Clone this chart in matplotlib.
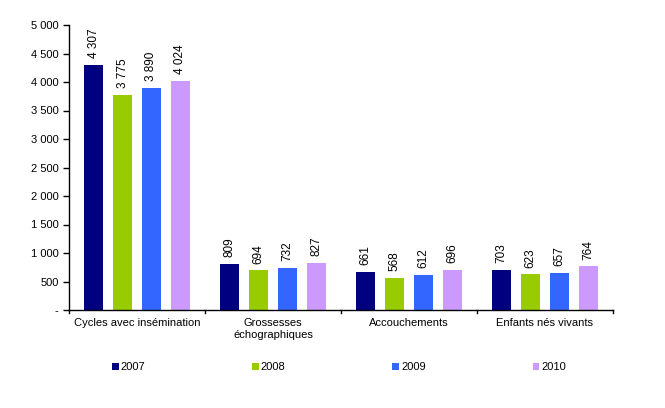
import matplotlib
matplotlib.use("Agg")
import matplotlib.pyplot as plt
import numpy as np

plt.rcParams['font.family'] = ['Liberation Sans', 'DejaVu Sans']

categories = ["Cycles avec insémination", "Grossesses\néchographiques", "Accouchements", "Enfants nés vivants"]
years = ["2007", "2008", "2009", "2010"]
v2007 = [4307, 809, 661, 703]
v2008 = [3775, 694, 568, 623]
v2009 = [3890, 732, 612, 657]
v2010 = [4024, 827, 696, 764]
series = [v2007, v2008, v2009, v2010]
colors = ["#000080", "#99CC00", "#3366FF", "#CC99FF"]
yticks = [0, 500, 1000, 1500, 2000, 2500, 3000, 3500, 4000, 4500, 5000]

def fmt(v):
    return "-" if v == 0 else f"{v:,}".replace(",", " ")

fig = plt.figure(figsize=(6.65, 4.08), dpi=100)
ax = fig.add_axes([69/665, 1 - 310/408, (613-69)/665, (310-25)/408])

x = np.arange(len(categories))
bw = 0.14
step = 0.213
for i, (vals, c, yr) in enumerate(zip(series, colors, years)):
    pos = x + (i - 1.5) * step
    bars = ax.bar(pos, vals, width=bw, color=c, label=yr)
    for p, v in zip(pos, vals):
        ax.text(p, v + 120, fmt(v), rotation=90, ha='center', va='bottom', fontsize=8.5)

ax.set_xlim(-0.5, 3.5)
ax.set_ylim(0, 5000)
ax.set_yticks(yticks)
ax.set_yticklabels([fmt(t) for t in yticks], fontsize=8)
ax.set_xticks(x)
ax.set_xticklabels(categories, fontsize=8)
ax.tick_params(axis='x', length=0, pad=6)
ax.tick_params(axis='y', length=4, direction='out', width=1)
for t in [-0.5, 0.5, 1.5, 2.5, 3.5]:
    ax.plot([t, t], [0, -60], color='black', lw=1, clip_on=False)
ax.spines['top'].set_visible(False)
ax.spines['right'].set_visible(False)
ax.spines['left'].set_linewidth(1)
ax.spines['bottom'].set_linewidth(1)

handles, labels = ax.get_legend_handles_labels()
fig.legend(handles, labels, loc='center', bbox_to_anchor=(339/665, 1 - 367/408), ncol=4,
           frameon=False, fontsize=8, handlelength=0.6, handleheight=0.6, handletextpad=0.2,
           columnspacing=9.6)

fig.savefig("out.png", dpi=100)
